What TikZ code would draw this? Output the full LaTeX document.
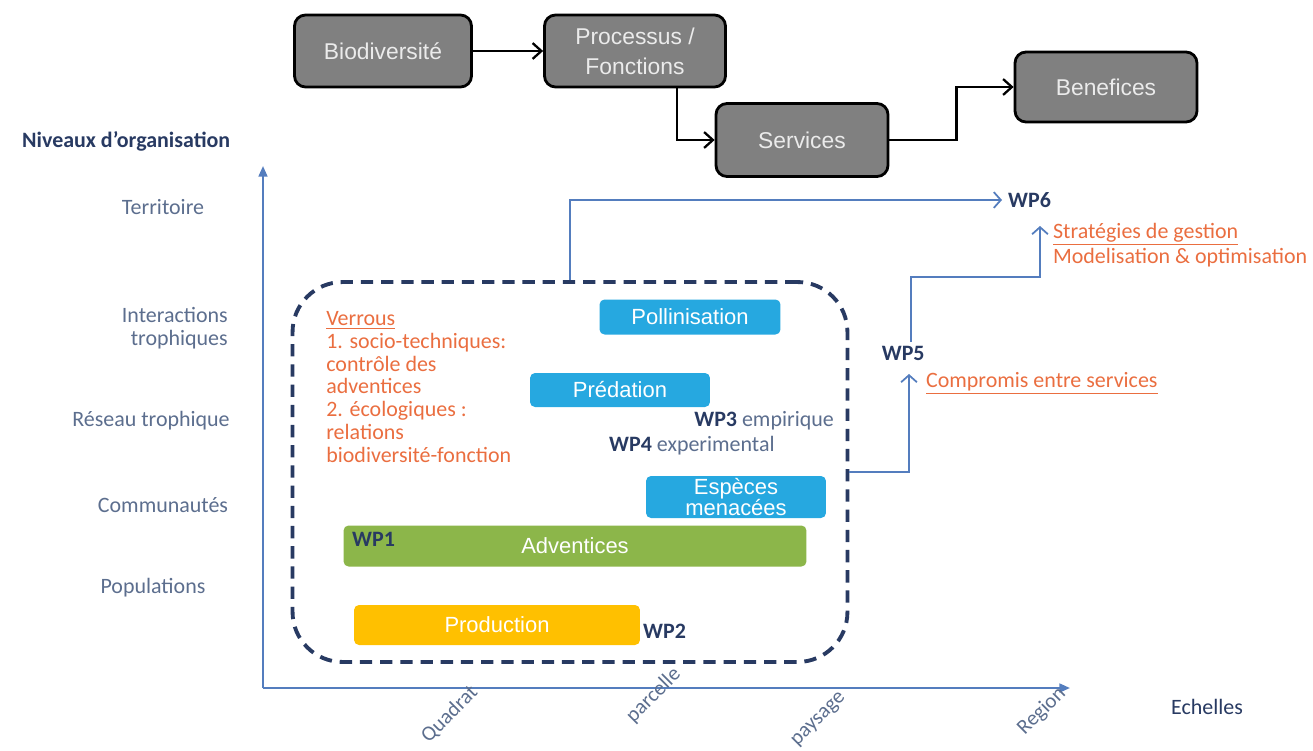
\documentclass[tikz,border=0pt]{standalone}
\usepackage{fontspec}
\setmainfont{Carlito}
\newfontfamily\arialfont{Liberation Sans}
\usetikzlibrary{arrows.meta, calc}
\definecolor{axisblue}{RGB}{84,125,190}
\definecolor{navy}{RGB}{40,58,98}
\definecolor{levelgray}{RGB}{92,110,142}
\definecolor{verrou}{RGB}{234,110,64}
\definecolor{skyblue}{RGB}{38,168,224}
\definecolor{leafgreen}{RGB}{140,182,74}
\definecolor{prodyellow}{RGB}{255,192,0}
\definecolor{boxgray}{RGB}{128,128,128}

\begin{document}
\begin{tikzpicture}[x=0.02cm, y=-0.02cm, font=\fontsize{12.5}{13}\selectfont,
  graybox/.style={draw=black, line width=1.6pt, fill=boxgray, rounded corners=0.22cm, text=black!8, align=center, font=\arialfont\fontsize{13}{17}\selectfont},
  wpbox/.style={fill=#1, rounded corners=0.1cm, inner sep=0pt, text=white, align=center, font=\arialfont\fontsize{12.5}{12.5}\selectfont},
  level/.style={text=levelgray},
  wplabel/.style={text=navy, font=\bfseries\fontsize{12.5}{13}\selectfont},
  scalelabel/.style={text=levelgray, rotate=45, anchor=east, inner sep=1pt, font=\fontsize{12}{12}\selectfont},
  flow/.style={line width=1.3pt, -{Straight Barb[length=5pt, width=9pt]}},
  link/.style={axisblue, line width=1pt, -{Straight Barb[length=4pt, width=9pt]}}]
  \useasboundingbox (0,0) rectangle (1313,751);

  \node[graybox, minimum width=3.54cm, minimum height=1.44cm] (bio) at (383,51) {Biodiversité};
  \node[graybox, minimum width=3.62cm, minimum height=1.44cm] (proc) at (635,51) {Processus /\\Fonctions};
  \node[graybox, minimum width=3.44cm, minimum height=1.46cm] (serv) at (802,140) {Services};
  \node[graybox, minimum width=3.64cm, minimum height=1.40cm] (bene) at (1106,87) {Benefices};
  \draw[flow] (bio.east) -- (proc.west);
  \draw[flow] ($(proc.south)+(42,0)$) |- (serv.west);
  \draw[flow] (serv.east) -- ++(67,0) |- (bene.west);

  \coordinate (O) at (263,688);
  \coordinate (ytop) at (263,166);
  \coordinate (xend) at (1070,688);
  \draw[axisblue, line width=1.2pt, -{Triangle[length=6pt, width=5pt]}] (O) -- (ytop);
  \draw[axisblue, line width=1.2pt, -{Triangle[length=6pt, width=5pt]}] (O) -- (xend);

  \node[wplabel, anchor=west] (niveaux) at (16,141) {Niveaux d’organisation};
  \node[level] (terr) at (163,207) {Territoire};
  \node[level, align=right, anchor=east] (inter) at (234,328) {Interactions\\trophiques};
  \node[level] (reseau) at (151,421) {Réseau trophique};
  \node[level] (comm) at (163,505) {Communautés};
  \node[level] (pop) at (153,588) {Populations};

  \node[scalelabel] (quadrat) at (476,688) {Quadrat};
  \node[scalelabel] (parcelle) at (679,670) {parcelle};
  \node[scalelabel] (paysage) at (845,694) {paysage};
  \node[scalelabel] (region) at (1064,689) {Region};
  \node[text=navy] (echelles) at (1207,707) {Echelles};

  \node[draw=navy, line width=2.2pt, dash pattern=on 7pt off 4.5pt, rounded corners=1cm,
    minimum width=11.1cm, minimum height=7.6cm, inner sep=0pt] (zone) at (570,472) {};

  \node[text=verrou, align=left, anchor=north west, inner sep=0pt] (verrous) at (326,311)
    {\underline{Verrous}\\1. socio-techniques:\\contrôle des\\adventices\\2. écologiques :\\relations\\biodiversité-fonction};

  \node[wpbox=skyblue, minimum width=3.62cm, minimum height=0.70cm] (poll) at (690,317) {Pollinisation};
  \node[wpbox=skyblue, minimum width=3.60cm, minimum height=0.68cm] (pred) at (620,390) {Prédation};
  \node[wpbox=skyblue, minimum width=3.60cm, minimum height=0.84cm] (esp) at (736,497) {Espèces\\menacées};
  \node[wpbox=leafgreen, minimum width=9.26cm, minimum height=0.82cm] (adv) at (575,546) {Adventices};
  \node[wpbox=prodyellow, minimum width=5.72cm, minimum height=0.80cm] (prod) at (497,625) {Production};

  \node[anchor=east] (wp3) at (840,421) {\textcolor{navy}{\bfseries WP3} \textcolor{levelgray}{empirique}};
  \node[anchor=west] (wp4) at (603,446) {\textcolor{navy}{\bfseries WP4} \textcolor{levelgray}{experimental}};
  \node[wplabel, anchor=west] (wp1) at (346,539) {WP1};
  \node[wplabel, anchor=west] (wp2) at (637,631) {WP2};

  \node[wplabel, anchor=west] (wp6) at (1002,200) {WP6};
  \node[wplabel, anchor=west, inner sep=2pt] (wp5) at (878,353) {WP5};
  \node[text=verrou, anchor=west, inner sep=1pt] (compromis) at (924,383) {\underline{Compromis entre services}};
  \node[text=verrou, anchor=west, align=left, inner sep=1pt, font=\fontsize{12.5}{14.5}\selectfont] (strat) at (1051,245)
    {\underline{Stratégies de gestion}\\Modelisation \& optimisation};
  \coordinate (wp5in) at (909,374);
  \coordinate (wp6in) at (1040,226);

  \draw[link] (zone.north) |- (wp6.west);
  \draw[link] (zone.east) -| (wp5in);
  \draw[link] ($(wp5.north)+(8,0)$) |- ($(wp6in)+(0,51)$) -- (wp6in);
\end{tikzpicture}
\end{document}
